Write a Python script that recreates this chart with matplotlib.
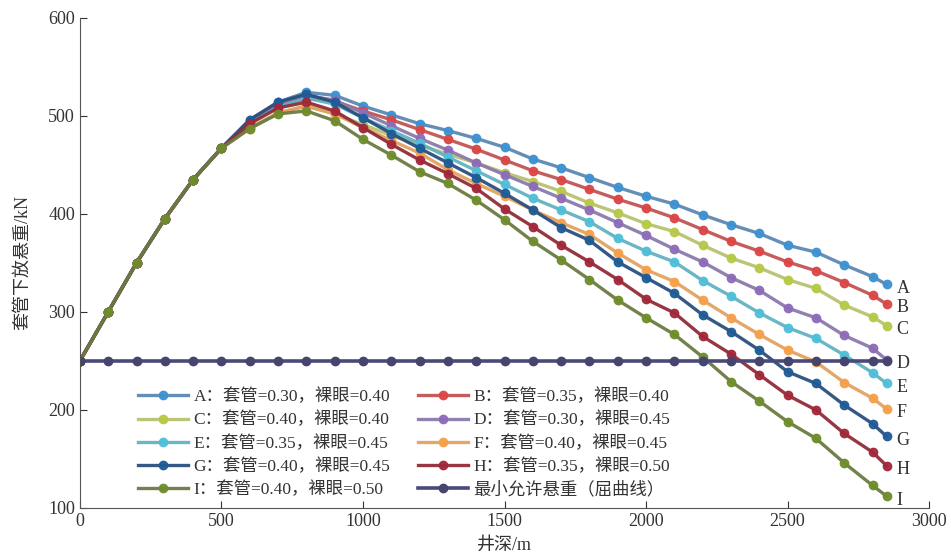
import numpy as np
import matplotlib
matplotlib.use("Agg")
import matplotlib.pyplot as plt

# well depth (m)
depth = list(range(0, 2900, 100)) + [2850]

# common part of all curves (0-500 m)
head = [250, 300, 350, 395, 435, 467]

load_A = head + [496, 514, 524, 521, 510, 501, 492, 485, 477, 468, 456, 447, 437, 427, 418, 410, 399, 389, 380, 368, 361, 348, 336, 328]
load_B = head + [493, 510, 518, 515, 505, 496, 486, 476, 466, 455, 444, 435, 425, 415, 406, 396, 384, 372, 362, 351, 342, 330, 317, 308]
load_C = head + [488, 503, 510, 502, 491, 480, 470, 461, 452, 442, 433, 423, 411, 401, 390, 382, 368, 355, 345, 333, 324, 307, 295, 286]
load_D = head + [495, 512, 521, 516, 503, 490, 477, 465, 452, 440, 428, 416, 404, 391, 378, 364, 351, 335, 322, 304, 294, 276, 263, 251]
load_E = head + [492, 509, 518, 512, 498, 485, 472, 458, 444, 430, 416, 404, 392, 375, 362, 351, 332, 316, 299, 284, 273, 256, 238, 227]
load_F = head + [487, 503, 510, 502, 488, 475, 462, 445, 431, 418, 404, 391, 379, 360, 343, 331, 312, 294, 277, 261, 249, 228, 212, 201]
load_G = head + [496, 514, 522, 514, 498, 482, 467, 452, 437, 421, 404, 386, 373, 351, 335, 319, 297, 280, 261, 239, 227, 205, 186, 173]
load_H = head + [492, 508, 514, 505, 488, 471, 455, 441, 426, 405, 387, 368, 351, 333, 313, 299, 275, 257, 236, 215, 200, 176, 157, 143]
load_I = head + [487, 502, 505, 495, 476, 460, 443, 431, 414, 394, 372, 353, 333, 312, 294, 277, 254, 229, 209, 188, 171, 146, 123, 112]
min_load = [250] * len(depth)

tags = ["A", "B", "C", "D", "E", "F", "G", "H", "I"]
casing = ["0.30", "0.35", "0.40", "0.30", "0.35", "0.40", "0.40", "0.35", "0.40"]
openhole = ["0.40", "0.40", "0.40", "0.45", "0.45", "0.45", "0.45", "0.50", "0.50"]
series = [load_A, load_B, load_C, load_D, load_E, load_F, load_G, load_H, load_I]

marker_colors = ["#3d92d2", "#dc4646", "#b7c948", "#8e6cb9", "#4fbfd8",
                 "#f6a04a", "#1f5c98", "#a2283a", "#6f8d2c"]
line_colors = ["#5d88b2", "#c25454", "#b9c270", "#8a7aac", "#62b2c2",
               "#e2a262", "#2b4f7e", "#912c38", "#6b7b42"]

fonts = ["Liberation Serif", "Noto Sans CJK SC"]
plt.rcParams["font.family"] = fonts

fig = plt.figure(figsize=(9.51, 5.57), dpi=100)
ax = fig.add_axes([0.084, 0.088, 0.893, 0.880])

handles = []
for tag, cs, oh, ys, mc, lc in zip(tags, casing, openhole, series, marker_colors, line_colors):
    h, = ax.plot(depth, ys, color=lc, lw=2.4, marker="o", ms=6,
                 mfc=mc, mec=mc, alpha=0.95,
                 label=f"{tag}：套管={cs}，裸眼={oh}")
    handles.append(h)
    ax.text(2885, ys[-1] - 4, tag, fontsize=13, va="center", ha="left",
            color="#333333")

hm, = ax.plot(depth, min_load, color="#4a4a7a", lw=2.6, marker="o", ms=6,
              mfc="#45456e", mec="#45456e", label="最小允许悬重（屈曲线）")

ax.set_xlim(0, 3000)
ax.set_ylim(100, 600)
ax.set_xticks(range(0, 3001, 500))
ax.set_yticks(range(100, 601, 100))
ax.tick_params(direction="in", labelsize=13, length=5, colors="#333333")
for s in ["top", "right"]:
    ax.spines[s].set_visible(False)
for s in ["left", "bottom"]:
    ax.spines[s].set_color("#555555")

ax.set_xlabel("井深/m", fontsize=13, labelpad=5, color="#333333")
ax.set_ylabel("套管下放悬重/kN", fontsize=13, labelpad=12, color="#333333")

order = [handles[0], handles[2], handles[4], handles[6], handles[8],
         handles[1], handles[3], handles[5], handles[7], hm]
leg = ax.legend(handles=order, ncol=2, loc="upper left", bbox_to_anchor=(0.05, 0.275),
                frameon=False, fontsize=12.5, handlelength=2.9, columnspacing=1.6,
                labelspacing=0.38, handletextpad=0.3)
for t in leg.get_texts():
    t.set_color("#333333")

fig.savefig("out.png", dpi=100)
